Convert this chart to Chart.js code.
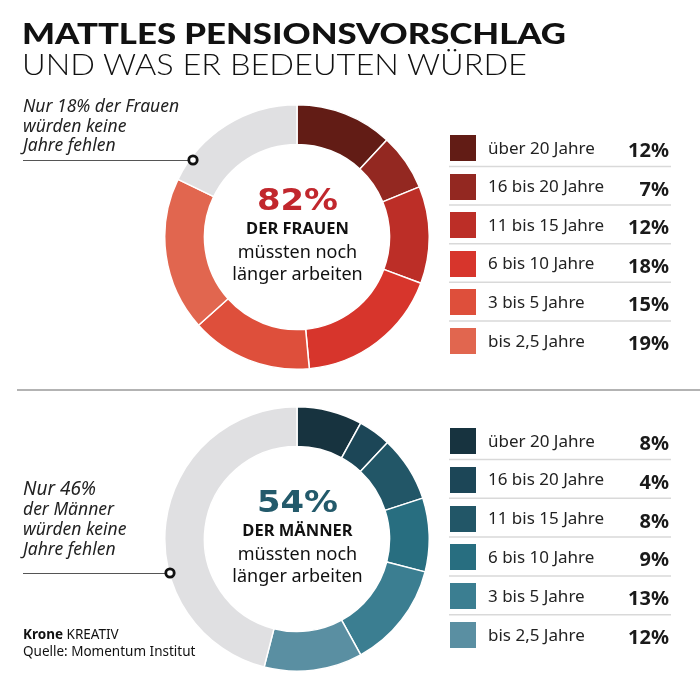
<!DOCTYPE html>
<html><head><meta charset="utf-8">
<script src="https://cdn.jsdelivr.net/npm/chart.js@4.4.0/dist/chart.umd.min.js"></script>
<style>
html,body{margin:0;padding:0;background:#fff;}
body{width:700px;height:680px;position:relative;overflow:hidden;font-family:'Noto Sans',sans-serif;color:#1a1a1a;}
canvas{position:absolute;z-index:1;}
.t{position:absolute;white-space:nowrap;left:0;top:0;z-index:3;transform-origin:0 0;}
svg{position:absolute;left:0;top:0;z-index:2;}
</style></head><body>
<svg id="deco" width="700" height="680"></svg>
<canvas id="cw" width="266" height="266" style="left:164px;top:104px;width:266px;height:266px"></canvas>
<canvas id="cm" width="266" height="266" style="left:164px;top:406px;width:266px;height:266px"></canvas>
<script>
// ---- data ----
const categories = ['über 20 Jahre','16 bis 20 Jahre','11 bis 15 Jahre','6 bis 10 Jahre','3 bis 5 Jahre','bis 2,5 Jahre'];
const womenValues = [12, 7, 12, 18, 15, 19];
const womenNone = 18;
const womenTotal = 82;
const menValues = [8, 4, 8, 9, 13, 12];
const menNone = 46;
const menTotal = 54;

const womenColors = ['#621c15','#932821','#bc2e27','#d7352c','#de4f3b','#e1664f'];
const menColors = ['#17333f','#1c4657','#225667','#286e80','#3b7e91','#5a8fa2'];
const greyColor = '#e0e0e2';

function donut(id, values, none, colors) {
  return new Chart(document.getElementById(id), {
    type: 'doughnut',
    data: {
      labels: categories.concat(['keine Jahre']),
      datasets: [{
        data: values.concat([none]),
        backgroundColor: colors.concat([greyColor]),
        borderColor: '#ffffff',
        borderWidth: 1.5
      }]
    },
    options: {
      responsive: false,
      animation: false,
      events: [],
      cutout: '70%',
      layout: { padding: 0 },
      plugins: { legend: { display: false }, tooltip: { enabled: false } }
    }
  });
}
donut('cw', womenValues, womenNone, womenColors);
donut('cm', menValues, menNone, menColors);

// ---- text helper ----
function place(html, x, baseline, css, align, fitWidth) {
  const d = document.createElement('div');
  d.className = 't';
  d.style.cssText += css;
  d.innerHTML = html + '<span style="display:inline-block;width:0;height:0;vertical-align:baseline"></span>';
  document.body.appendChild(d);
  let w = d.getBoundingClientRect().width;
  if (fitWidth) {
    d.style.transform = 'scaleX(' + (fitWidth / w) + ')';
    w = fitWidth;
  }
  const b = d.lastChild.offsetTop;
  let left = x;
  if (align === 'center') left = x - w / 2;
  if (align === 'right') left = x - w;
  d.style.left = left + 'px';
  d.style.top = (baseline - b) + 'px';
  return d;
}

// title
place('MATTLES PENSIONSVORSCHLAG', 22, 44, 'font-family:Lato;font-weight:900;font-size:29px;color:#111;', 'left', 544);
place('UND WAS ER BEDEUTEN WÜRDE', 22, 75, 'font-family:Lato;font-weight:300;font-size:29px;color:#111;', 'left', 505);

// annotations
const annCss = 'font-style:italic;font-size:17.5px;color:#222;';
place('Nur ' + womenNone + '% der Frauen', 23, 112, annCss);
place('würden keine', 23, 132, annCss);
place('Jahre fehlen', 23, 151, annCss);

place('Nur ' + menNone + '%', 23, 495, annCss + 'font-size:19px;');
place('der Männer', 23, 515, annCss);
place('würden keine', 23, 535, annCss);
place('Jahre fehlen', 23, 555, annCss);

// centre texts
function centre(cx, cy, total, color, who) {
  place(total + '%', cx, cy - 27, 'font-family:"DejaVu Sans";font-weight:bold;font-size:30px;color:' + color + ';', 'center', 81);
  place(who, cx, cy - 3, 'font-weight:bold;font-size:16.5px;color:#111;', 'center');
  place('müssten noch', cx, cy + 21, 'font-size:18px;color:#111;', 'center');
  place('länger arbeiten', cx, cy + 43, 'font-size:18px;color:#111;', 'center');
}
centre(297.5, 237, womenTotal, '#c1272d', 'DER FRAUEN');
centre(297.5, 539, menTotal, '#235a6b', 'DER MÄNNER');

// legends
const svg = document.getElementById('deco');
const NS = 'http://www.w3.org/2000/svg';
function el(tag, attrs) {
  const e = document.createElementNS(NS, tag);
  for (const k in attrs) e.setAttribute(k, attrs[k]);
  svg.appendChild(e);
  return e;
}
function legend(top0, step, values, colors) {
  categories.forEach((c, i) => {
    const top = top0 + i * step;
    const sq = document.createElement('div');
    sq.style.cssText = 'position:absolute;left:450px;top:' + top + 'px;width:26px;height:26px;background:' + colors[i] + ';';
    document.body.appendChild(sq);
    place(c, 488, top + 18.5, 'font-size:17px;color:#222;');
    place(values[i] + '%', 669, top + 22, 'font-weight:bold;font-size:20px;color:#1a1a1a;', 'right');
    if (i < categories.length - 1) {
      el('line', {x1: 449, x2: 671, y1: top + 31.5, y2: top + 31.5, stroke: '#d9d9d9', 'stroke-width': 1.5});
    }
  });
}
legend(135, 38.6, womenValues, womenColors);
legend(428, 38.8, menValues, menColors);

// leader lines and dots
el('line', {x1: 23, x2: 190, y1: 160.5, y2: 160.5, stroke: '#555', 'stroke-width': 1.2});
el('circle', {cx: 193, cy: 160, r: 4.2, fill: '#fff', stroke: '#111', 'stroke-width': 2.8});
el('line', {x1: 23, x2: 167, y1: 573.5, y2: 573.5, stroke: '#555', 'stroke-width': 1.2});
el('circle', {cx: 170, cy: 573, r: 4.2, fill: '#fff', stroke: '#111', 'stroke-width': 2.8});

// divider
el('line', {x1: 17, x2: 700, y1: 390, y2: 390, stroke: '#9a9a9a', 'stroke-width': 1.5});

// footer
place('<b>Krone</b> KREATIV', 23, 639, 'font-size:13.5px;color:#111;');
place('Quelle: Momentum Institut', 23, 656, 'font-size:13.5px;color:#111;');
</script>
</body></html>
